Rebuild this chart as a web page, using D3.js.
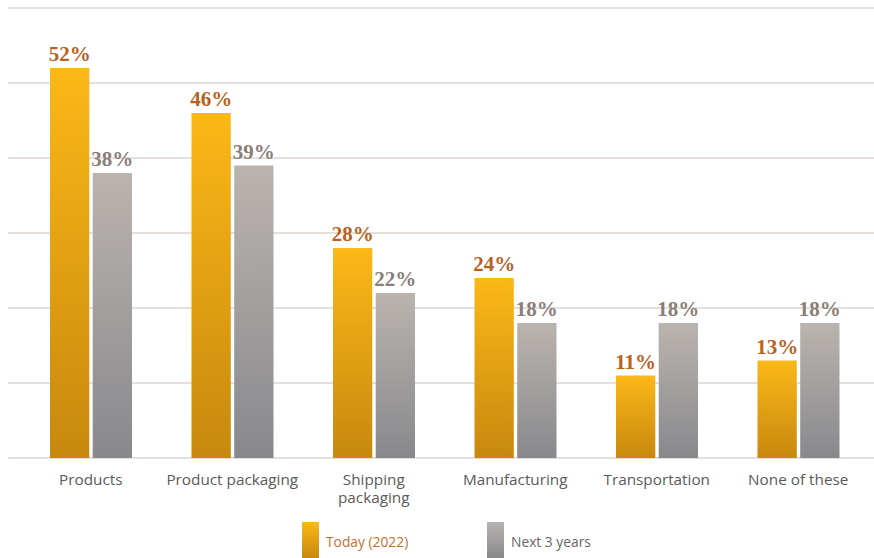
<!DOCTYPE html>
<html><head><meta charset="utf-8">
<script src="https://cdn.jsdelivr.net/npm/d3@7"></script>
<style>body{margin:0;background:#fff}svg{display:block}</style>
</head><body>
<script>
const categories = ["Products", "Product packaging", "Shipping\npackaging", "Manufacturing", "Transportation", "None of these"];
const today = [52, 46, 28, 24, 11, 13];
const next3 = [38, 39, 22, 18, 18, 18];
const seriesNames = ["Today (2022)", "Next 3 years"];
const gridTicks = [0, 10, 20, 30, 40, 50, 60];

const W = 874, H = 558;
const svg = d3.select("body").append("svg").attr("width", W).attr("height", H);
const defs = svg.append("defs");
function grad(id, c1, c2) {
  const g = defs.append("linearGradient").attr("id", id).attr("x1", 0).attr("y1", 0).attr("x2", 0).attr("y2", 1);
  g.append("stop").attr("offset", "0%").attr("stop-color", c1);
  g.append("stop").attr("offset", "100%").attr("stop-color", c2);
}
grad("gOrange", "#fbb817", "#c8880e");
grad("gGray", "#bab4af", "#88888c");

const y = d3.scaleLinear().domain([0, 60]).range([458, 8]);
const x = d3.scaleBand().domain(categories).range([20, 869]).paddingInner(0).paddingOuter(0);
const sub = d3.scaleBand().domain([0, 1]).range([30, 112]).paddingInner(0.08);

svg.append("g").selectAll("line").data(gridTicks).join("line")
  .attr("x1", 8).attr("x2", 874)
  .attr("y1", d => y(d)).attr("y2", d => y(d))
  .attr("stroke", "#e6e0dc").attr("stroke-width", 2);

const series = [
  {vals: today, fill: "url(#gOrange)", label: "#b8621f"},
  {vals: next3, fill: "url(#gGray)", label: "#8b7d77"}
];
series.forEach((s, si) => {
  const g = svg.append("g");
  g.selectAll("rect").data(categories).join("rect")
    .attr("x", (c) => x(c) + sub(si))
    .attr("width", sub.bandwidth())
    .attr("y", (c, i) => y(s.vals[i]))
    .attr("height", (c, i) => y(0) - y(s.vals[i]))
    .attr("fill", s.fill);
  g.selectAll("text").data(categories).join("text")
    .attr("x", c => x(c) + sub(si) + sub.bandwidth() / 2)
    .attr("y", (c, i) => y(s.vals[i]) - 7)
    .attr("text-anchor", "middle")
    .attr("font-family", "Liberation Serif, serif")
    .attr("font-weight", "bold")
    .attr("font-size", 21)
    .attr("fill", s.label)
    .text((c, i) => s.vals[i] + "%");
});

const xl = svg.append("g");
categories.forEach(c => {
  c.split("\n").forEach((l, i) => {
    xl.append("text")
      .attr("x", x(c) + x.bandwidth() / 2)
      .attr("y", 485 + i * 18)
      .attr("text-anchor", "middle")
      .attr("font-family", "Open Sans, sans-serif")
      .attr("font-size", 15.3)
      .attr("fill", "#5a5a5a")
      .text(l);
  });
});

const legend = [
  {name: seriesNames[0], fill: "url(#gOrange)", color: "#c0702d", x: 302},
  {name: seriesNames[1], fill: "url(#gGray)", color: "#666666", x: 487}
];
const lg = svg.append("g");
legend.forEach(d => {
  lg.append("rect").attr("x", d.x).attr("y", 522).attr("width", 17).attr("height", 36).attr("fill", d.fill);
  lg.append("text").attr("x", d.x + 24).attr("y", 547)
    .attr("font-family", "Open Sans, sans-serif").attr("font-size", 13.8)
    .attr("fill", d.color).text(d.name);
});
</script>
</body></html>
